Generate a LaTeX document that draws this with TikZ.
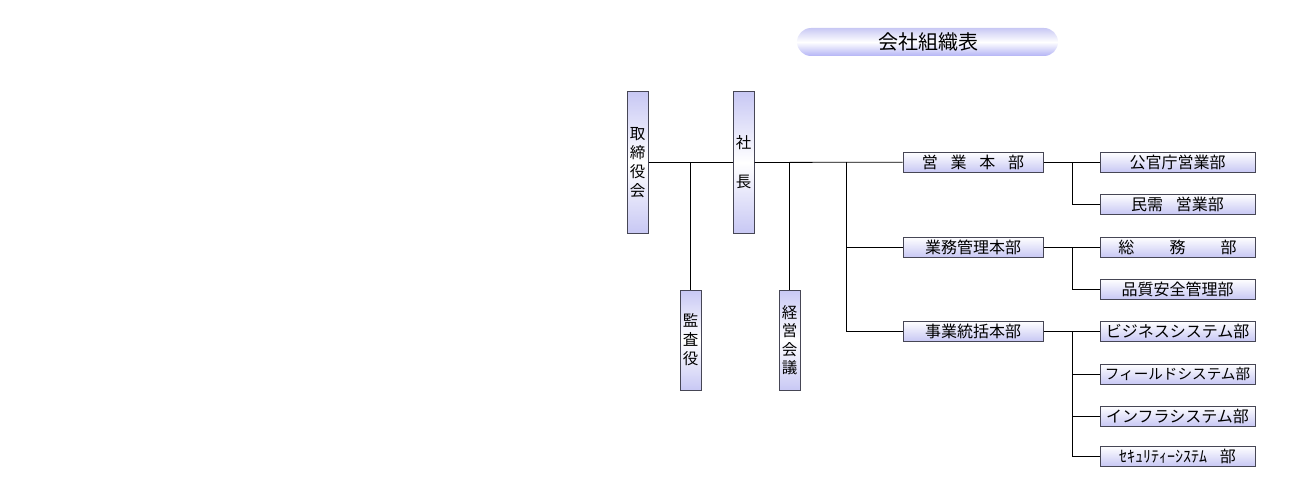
\documentclass[tikz,border=0pt]{standalone}
\usepackage{fontspec}
\setmainfont{Noto Sans CJK JP}
\usepackage{tikz}
\usetikzlibrary{positioning}
\usepackage{xcolor}
\definecolor{lav}{RGB}{200,200,244}
\definecolor{edge}{RGB}{70,70,85}
\tikzset{
  hbox/.style={draw=edge, line width=1pt, top color=white, bottom color=lav,
    minimum width=140pt, minimum height=20pt, inner sep=0pt,
    font=\fontsize{16}{17}\selectfont},
  lbox/.style={hbox, minimum width=155pt},
  vbox/.style={draw=edge, line width=1pt, top color=lav, bottom color=lav, middle color=white,
    minimum width=21pt, inner sep=0pt, align=center,
    font=\fontsize{15.5}{19}\selectfont},
  link/.style={draw=black, line width=0.8pt},
}
\begin{document}
\begin{tikzpicture}[x=1pt,y=-1pt]
\useasboundingbox (0,0) rectangle (1300,500);
% title
\shade[top color=lav, bottom color=lav!90!blue, middle color=white, rounded corners=14pt]
  (797,28) rectangle (1058,56);
\node[font=\fontsize{20}{22}\selectfont] (title) at (928,42) {会社組織表};
% top level
\node[vbox, minimum height=141pt] (board) at (637.5,162.5) {取\\締\\役\\会};
\node[vbox, minimum height=141pt] (pres) at (743.5,162.5) {社\\[20pt]長};
\node[vbox, minimum height=100pt] (audit) at (690.5,340) {監\\査\\役};
\node[vbox, minimum height=100pt, font=\fontsize{15.5}{18.5}\selectfont] (council) at (789.5,340) {経\\営\\会\\議};
% divisions
\node[hbox] (eigyo) at (973,162) {営\hspace{0.8em}業\hspace{0.8em}本\hspace{0.8em}部};
\node[hbox] (gyomu) at (973,247) {業務管理本部};
\node[hbox] (jigyo) at (973,331) {事業統括本部};
% departments
\node[lbox] (kokan) at (1177.5,162) {公官庁営業部};
\node[lbox] (minju) at (1177.5,204) {民需\hspace{0.8em}営業部};
\node[lbox] (somu) at (1177.5,247) {総\hspace{2.2em}務\hspace{2.2em}部};
\node[lbox] (hinshitsu) at (1177.5,289) {品質安全管理部};
\node[lbox] (biz) at (1177.5,331) {ビジネスシステム部};
\node[lbox, font=\fontsize{14.6}{17}\selectfont] (field) at (1177.5,374) {フィールドシステム部};
\node[lbox] (infra) at (1177.5,416) {インフラシステム部};
\node[lbox] (sec) at (1177.5,456) {ｾｷｭﾘﾃｨｰｼｽﾃﾑ\hspace{0.8em}部};
% connectors
\draw[link] (board) -- (pres);
\draw[link] (audit.north |- board.east) -- (audit.north);
\draw[link] (pres) -- (eigyo);
\draw[link] (council.north |- pres.east) -- (council.north);
\coordinate (trunk) at (846,162);
\draw[link] (trunk) |- (gyomu.west);
\draw[link] (trunk) |- (jigyo.west);
\draw[link] (eigyo) -- (kokan);
\draw[link] ([xshift=29pt]eigyo.east) |- (minju.west);
\draw[link] (gyomu) -- (somu);
\draw[link] ([xshift=29pt]gyomu.east) |- (hinshitsu.west);
\draw[link] (jigyo) -- (biz);
\draw[link] ([xshift=29pt]jigyo.east) |- (field.west);
\draw[link] ([xshift=29pt]jigyo.east) |- (infra.west);
\draw[link] ([xshift=29pt]jigyo.east) |- (sec.west);
\end{tikzpicture}
\end{document}
